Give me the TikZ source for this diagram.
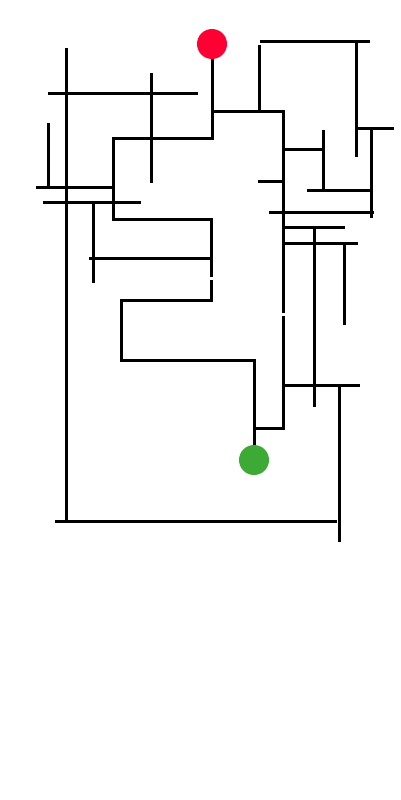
\documentclass[tikz,border=0pt]{standalone}
\usepackage{tikz}

\begin{document}
\begin{tikzpicture}[x=1pt, y=-1pt,
      wall/.style={draw, line width=3pt},
      spot/.style={circle, inner sep=0pt, minimum size=30pt}]
      \useasboundingbox (0,0) rectangle (400,800);
      \definecolor{startred}{RGB}{255,0,51}
      \definecolor{goalgreen}{RGB}{61,170,53}
      \node (start) [spot, fill=startred] at (212,44) {};
      \node (goal) [spot, fill=goalgreen] at (254,460) {};

      % path from start to goal
      \draw[wall] (start.south) -- (212,138) -- (113,138) -- (113,219) -- (211,219) -- (211,277);
      \draw[wall] (211,280) -- (211,300) -- (121,300) -- (121,360) -- (254,360) -- (goal);

      % left walls
      \draw[wall] (66,48) -- (66,523);
      \draw[wall] (48,93) -- (198,93);
      \draw[wall] (151,73) -- (151,183);
      \draw[wall] (48,123) -- (48,187);
      \draw[wall] (36,187) -- (114,187);
      \draw[wall] (43,202) -- (141,202);
      \draw[wall] (93,202) -- (93,283);
      \draw[wall] (89,258) -- (211,258);
      \draw[wall] (55,521) -- (337,521);

      % right walls
      \draw[wall] (260,42) -- (370,42);
      \draw[wall] (259,45) -- (259,111);
      \draw[wall] (212,111) -- (283,111) -- (283,313);
      \draw[wall] (283,316) -- (283,428) -- (254,428);
      \draw[wall] (356,42) -- (356,157);
      \draw[wall] (356,128) -- (394,128);
      \draw[wall] (371,128) -- (371,218);
      \draw[wall] (283,149) -- (323,149);
      \draw[wall] (323,130) -- (323,190);
      \draw[wall] (307,190) -- (371,190);
      \draw[wall] (258,181) -- (283,181);
      \draw[wall] (269,212) -- (374,212);
      \draw[wall] (283,227) -- (345,227);
      \draw[wall] (314,227) -- (314,407);
      \draw[wall] (283,243) -- (358,243);
      \draw[wall] (344,243) -- (344,325);
      \draw[wall] (283,385) -- (360,385);
      \draw[wall] (339,385) -- (339,542);
    \end{tikzpicture}
\end{document}
